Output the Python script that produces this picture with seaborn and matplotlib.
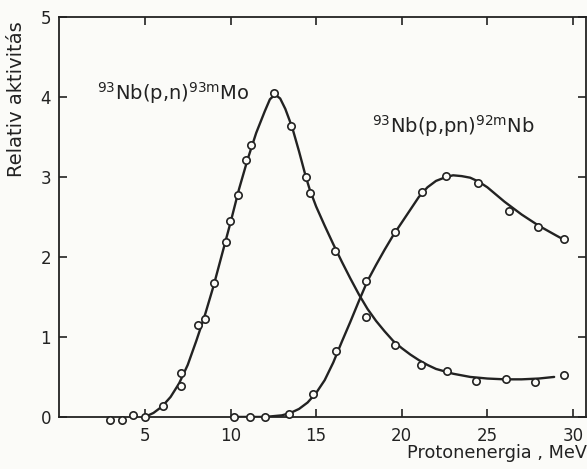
import pandas as pd
import matplotlib
matplotlib.use('Agg')
import matplotlib.pyplot as plt
import seaborn as sns

# measured points, 93Nb(p,n)93mMo
mo_x = [2.97, 3.68, 4.32, 5.02, 6.05, 7.09, 7.09, 8.12, 8.53, 9.05, 9.75, 9.98, 10.41, 10.91,
        11.22, 12.52, 13.56, 14.40, 14.63, 16.10, 17.93, 19.60, 21.14, 22.63, 24.32, 26.10,
        27.80, 29.48]
mo_y = [-0.04, -0.04, 0.02, 0.0, 0.14, 0.39, 0.55, 1.15, 1.23, 1.68, 2.19, 2.45, 2.77, 3.21,
        3.40, 4.05, 3.64, 3.00, 2.80, 2.07, 1.25, 0.90, 0.65, 0.58, 0.45, 0.47, 0.44, 0.53]

# measured points, 93Nb(p,pn)92mNb
nb_x = [10.20, 11.16, 12.00, 13.39, 14.84, 16.14, 17.93, 19.63, 21.18, 22.60, 24.48, 26.26,
        27.93, 29.50]
nb_y = [0.0, 0.0, 0.0, 0.04, 0.29, 0.82, 1.70, 2.31, 2.81, 3.01, 2.93, 2.57, 2.38, 2.22]

# hand drawn curves
mo_fit_x = [5.0, 5.5, 6.0, 6.5, 7.0, 7.5, 8.0, 8.5, 9.0, 9.5, 10.0, 10.5, 11.0, 11.5, 12.0,
            12.3, 12.6, 12.9, 13.2, 13.6, 14.0, 14.4, 14.63, 15.0, 15.5, 16.0, 16.5, 17.0, 17.5,
            18.0, 18.5, 19.0, 19.5, 20.0, 20.5, 21.0, 21.5, 22.0, 23.0, 24.0, 25.0, 26.0, 27.0,
            28.0, 28.9]
mo_fit_y = [0.0, 0.05, 0.13, 0.25, 0.42, 0.65, 0.95, 1.27, 1.63, 2.03, 2.43, 2.85, 3.22, 3.55,
            3.82, 3.97, 4.03, 3.98, 3.85, 3.62, 3.32, 3.00, 2.84, 2.63, 2.39, 2.16, 1.94, 1.73,
            1.53, 1.35, 1.20, 1.07, 0.95, 0.86, 0.78, 0.71, 0.65, 0.60, 0.54, 0.50, 0.48, 0.47,
            0.47, 0.48, 0.50]

nb_fit_x = [10.2, 12.0, 13.0, 13.5, 14.0, 14.5, 15.0, 15.5, 16.0, 16.5, 17.0, 17.5, 18.0, 18.5,
            19.0, 19.5, 20.0, 20.5, 21.0, 21.5, 22.0, 22.6, 23.0, 23.5, 24.0, 24.5, 25.0, 25.5,
            26.0, 26.5, 27.0, 27.5, 28.0, 28.5, 29.0, 29.6]
nb_fit_y = [0.0, 0.0, 0.02, 0.05, 0.10, 0.18, 0.30, 0.46, 0.68, 0.94, 1.19, 1.45, 1.70, 1.90,
            2.09, 2.27, 2.43, 2.59, 2.75, 2.87, 2.95, 3.00, 3.02, 3.01, 2.99, 2.94, 2.87, 2.78,
            2.69, 2.61, 2.53, 2.46, 2.39, 2.33, 2.27, 2.20]

ink = '#222222'
paper = '#fbfbf8'

sns.set_style('ticks')
plt.rcParams['font.family'] = ['DejaVu Sans']

fig = plt.figure(figsize=(5.87, 4.69), dpi=100, facecolor=paper)
ax = fig.add_axes([0.101, 0.111, 0.897, 0.853], facecolor=paper)

sns.lineplot(x=mo_fit_x, y=mo_fit_y, color=ink, lw=1.7, sort=False, ax=ax)
sns.lineplot(x=nb_fit_x, y=nb_fit_y, color=ink, lw=1.7, sort=False, ax=ax)

pts = pd.DataFrame({'x': mo_x + nb_x, 'y': mo_y + nb_y})
sns.scatterplot(data=pts, x='x', y='y', s=28, facecolor=paper, edgecolor=ink,
                linewidth=1.2, zorder=5, clip_on=False, ax=ax)

ax.set_xlim(0, 30.75)
ax.set_ylim(0, 5)
ax.set_xticks([5, 10, 15, 20, 25, 30])
ax.set_yticks([0, 1, 2, 3, 4, 5])
ax.tick_params(direction='in', top=True, right=True, length=6, width=1.2,
               labelsize=12, colors=ink)
ax.tick_params(axis='x', pad=7)
ax.tick_params(axis='y', pad=6)
for s in ax.spines.values():
    s.set_linewidth(1.3)
    s.set_color(ink)

ax.set_xlabel('')
ax.set_ylabel('Relativ aktivitás', fontsize=14, color=ink)
ax.yaxis.set_label_coords(-0.064, 0.795)

fig.text(0.999, 0.015, 'Protonenergia , MeV', ha='right', va='bottom', fontsize=12.7, color=ink)

ax.text(2.2, 3.96, r'$^{\mathrm{93}}$Nb(p,n)$^{\mathrm{93m}}$Mo', fontsize=14, color=ink,
        va='baseline')
ax.text(18.26, 3.55, r'$^{\mathrm{93}}$Nb(p,pn)$^{\mathrm{92m}}$Nb', fontsize=14, color=ink,
        va='baseline')

plt.savefig('out.png', dpi=100, facecolor=paper)
